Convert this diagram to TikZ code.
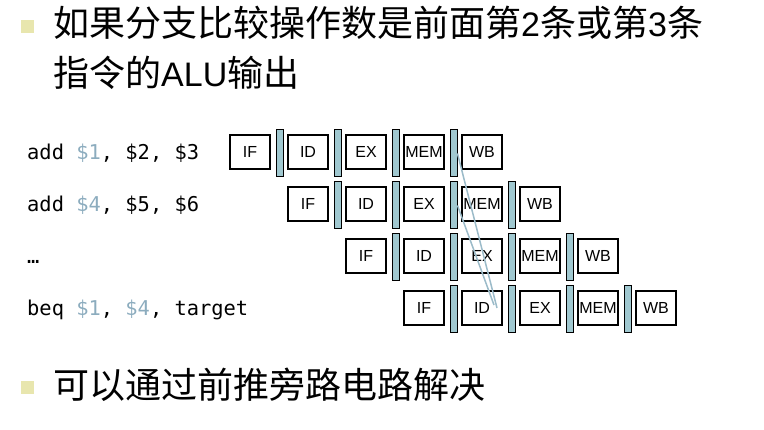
\documentclass[tikz,border=0pt]{standalone}
\usepackage{fontspec}
\setmainfont{Liberation Sans}
\newfontfamily\cjkfont{Noto Sans CJK SC}
\newfontfamily\latinfont{Liberation Sans}
\newfontfamily\codefont{DejaVu Sans Mono}
\usetikzlibrary{positioning}
\definecolor{regcolor}{HTML}{8CACBE}
\definecolor{latchcolor}{HTML}{A0C8D0}
\definecolor{bulletcolor}{HTML}{E8E6AE}
\definecolor{fwdcolor}{HTML}{9BBBC9}
\newcommand\lat[1]{{\latinfont\fontsize{34}{34}\selectfont #1}}
\newcommand\reg[1]{{\color{regcolor}#1}}

\begin{document}
\begin{tikzpicture}[
    x=1pt,
    y=-1pt,
    stage/.style={
      draw=black,
      line width=1.8pt,
      minimum width=40pt,
      minimum height=34pt,
      inner sep=0,
      font=\fontsize{16}{16}\selectfont,
    },
    latch/.style={
      draw=black,
      line width=1pt,
      fill=latchcolor,
      minimum width=7pt,
      minimum height=47pt,
      inner sep=0,
    },
    instr/.style={
      anchor=west,
      inner sep=0,
      text height=16pt,
      text depth=0pt,
      font=\codefont\fontsize{20.4}{20.4}\selectfont,
    },
    bullet/.style={
      fill=bulletcolor,
      minimum size=13pt,
      inner sep=0,
    },
    heading/.style={
      anchor=west,
      inner sep=0,
      font=\cjkfont\fontsize{36}{36}\selectfont,
    },
    forward/.style={
      draw=fwdcolor,
      line width=1.5pt,
    },
  ]
    \useasboundingbox (0,0) rectangle (764,430);

    \node[bullet] (bul1) at (27.5,27) {};
    \node[heading] (head1) at (53,23) {如果分支比较操作数是前面第\lat{2}条或第\lat{3}条};
    \node[heading] (head2) at (53,73) {指令的\lat{ALU}输出};

    \node[instr] (ins0) at (27,152) {add \reg{\$1}, \$2, \$3};
    \node[instr] (ins1) at (27,204) {add \reg{\$4}, \$5, \$6};
    \node[instr] (ins2) at (27,256) {…};
    \node[instr] (ins3) at (27,308) {beq \reg{\$1}, \reg{\$4}, target};

    % pipeline stages and latches
    \foreach \r in {0,...,3}{
      \foreach \s [count=\k from 0] in {IF,ID,EX,MEM,WB}{
        \node[stage] (s\r\k) at ({250+58*(\r+\k)},{152+52*\r}) {\s};
      }
      \foreach \k in {0,...,3}{
        \node[latch] (l\r\k) at ({279.5+58*(\r+\k)},{153.5+52*\r}) {};
      }
    }

    \coordinate (fwdA) at ([xshift=15pt]s31.center);
    \coordinate (fwdB) at ([xshift=12pt,yshift=3pt]s31.center);
    \draw[forward] (l03.east) -- (fwdA);
    \draw[forward] (l12.east) -- (fwdB);

    \node[bullet] (bul2) at (27.5,387.5) {};
    \node[heading] (head3) at (53,385) {可以通过前推旁路电路解决};
  \end{tikzpicture}
\end{document}
